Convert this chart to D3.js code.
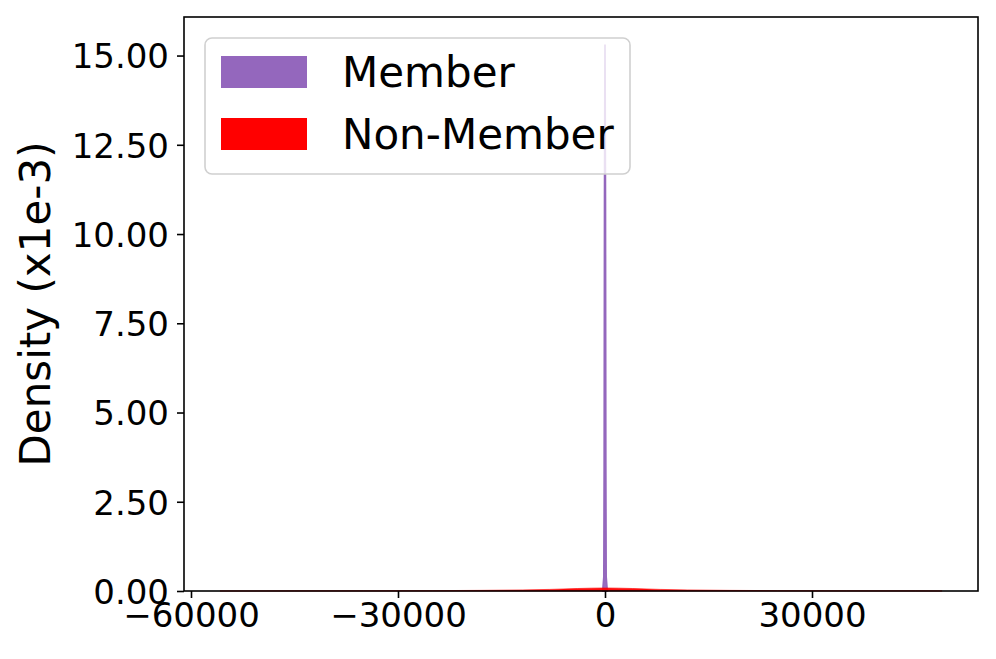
<!DOCTYPE html>
<meta charset="utf-8">
<style>
  body { margin: 0; background: #fff; }
  svg { font-family: "DejaVu Sans", sans-serif; }
</style>
<svg></svg>
<script src="https://cdn.jsdelivr.net/npm/d3@7/dist/d3.min.js"></script>
<script>

// density values are in units of 1e-3
var member_x = [-320, -160, -110, -60, 0, 60, 110, 160, 320],
    member_y = [0, 0.4, 3.5, 11, 15.31, 11, 3.5, 0.4, 0];

var nonmember_x = [-55800, -45000, -35000, -25000, -18000, -12000, -8000, -4000, -2000, 0,
                   2000, 4000, 8000, 12000, 18000, 25000, 35000, 45000, 48850],
    nonmember_y = [0.002, 0.004, 0.006, 0.01, 0.018, 0.03, 0.045, 0.07, 0.08, 0.085,
                   0.08, 0.07, 0.045, 0.03, 0.018, 0.01, 0.006, 0.004, 0.002];

var x_ticks = [-60000, -30000, 0, 30000],
    y_ticks = [0, 2.5, 5, 7.5, 10, 12.5, 15];

var series = [
  {name: "Member", xs: member_x, ys: member_y, colour: "#9467bd", sw: 1.8},
  {name: "Non-Member", xs: nonmember_x, ys: nonmember_y, colour: "#ff0000", sw: 0.6}
];

var width = 996, height = 659,
    margin = {left: 184, right: 18, top: 17, bottom: 68},
    svg = d3.select("svg").attr("width", width).attr("height", height);

var x = d3.scaleLinear().domain([-61014, 54058]).range([margin.left, width - margin.right]),
    y = d3.scaleLinear().domain([0, 16.08]).range([height - margin.bottom, margin.top]);

var area = d3.area()
    .x(d => x(d[0]))
    .y0(y(0))
    .y1(d => y(d[1]));

var g = svg.append("g");

series.forEach(s => {
  g.append("path")
    .datum(s.xs.map((v, i) => [v, s.ys[i]]))
    .attr("d", area)
    .attr("fill", s.colour)
    .attr("fill-opacity", 0.95)
    .attr("stroke", s.colour)
    .attr("stroke-width", s.sw);
});

// axes
var xAxis = svg.append("g")
    .attr("transform", "translate(0," + y(0) + ")")
    .call(d3.axisBottom(x).tickValues(x_ticks).tickSize(7).tickPadding(5).tickFormat(d3.format("d")));
var yAxis = svg.append("g")
    .attr("transform", "translate(" + margin.left + ",0)")
    .call(d3.axisLeft(y).tickValues(y_ticks).tickSize(7).tickPadding(8).tickFormat(d3.format(".2f")));

[xAxis, yAxis].forEach(a => {
  a.select(".domain").remove();
  a.selectAll("line").attr("stroke", "#000").attr("stroke-width", 1.6);
  a.selectAll("text").attr("font-size", 34).attr("font-family", "DejaVu Sans").attr("fill", "#000");
});
yAxis.selectAll("text").attr("dy", "0.36em");

svg.append("rect")
    .attr("x", margin.left).attr("y", margin.top)
    .attr("width", width - margin.right - margin.left)
    .attr("height", height - margin.bottom - margin.top)
    .attr("fill", "none")
    .attr("stroke", "#000")
    .attr("stroke-width", 1.6);

svg.append("text")
    .attr("transform", "translate(50," + ((margin.top + height - margin.bottom) / 2) + ") rotate(-90)")
    .attr("text-anchor", "middle")
    .attr("font-size", 42)
    .text("Density (x1e-3)");

// legend
var legend = svg.append("g").attr("transform", "translate(205,38)");
legend.append("rect")
    .attr("width", 425).attr("height", 136)
    .attr("rx", 7)
    .attr("fill", "#fff").attr("fill-opacity", 0.8)
    .attr("stroke", "#d0d0d0").attr("stroke-width", 1.6);

series.forEach((s, i) => {
  var row = legend.append("g").attr("transform", "translate(0," + (i * 62) + ")");
  row.append("rect")
      .attr("x", 16).attr("y", 18)
      .attr("width", 86).attr("height", 32)
      .attr("fill", s.colour);
  row.append("text")
      .attr("x", 137).attr("y", 34)
      .attr("dy", "0.36em")
      .attr("font-size", 42)
      .text(s.name);
});

</script>
